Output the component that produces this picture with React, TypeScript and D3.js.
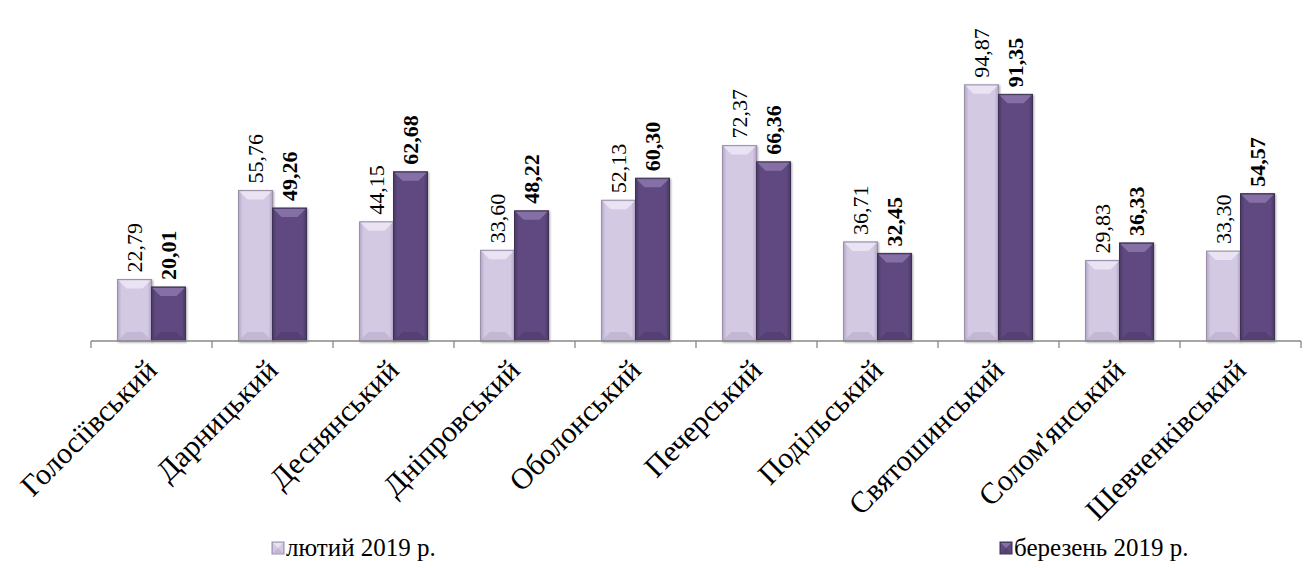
import * as d3 from "d3";

/* data */
const districts = [
  "Голосіївський",
  "Дарницький",
  "Деснянський",
  "Дніпровський",
  "Оболонський",
  "Печерський",
  "Подільський",
  "Святошинський",
  "Солом'янський",
  "Шевченківський",
];
const february = [22.79, 55.76, 44.15, 33.6, 52.13, 72.37, 36.71, 94.87, 29.83, 33.3];
const march = [20.01, 49.26, 62.68, 48.22, 60.3, 66.36, 32.45, 91.35, 36.33, 54.57];
const seriesNames = ["лютий 2019 р.", "березень 2019 р."];

const W = 1308;
const H = 568;
const FONT = "'Liberation Serif', 'Times New Roman', serif";

const palette = [
  { base: "#d3c9e3", light: "#ece6f4", dark: "#b3a6c8", edge: "#9a90a8" },
  { base: "#5f4a80", light: "#8a74a8", dark: "#4a3866", edge: "#3e3052" },
];

const fmt = (v: number) => v.toFixed(2).replace(".", ",");

function Bar({ x, y, w, h, s }: { x: number; y: number; w: number; h: number; s: number }) {
  const c = palette[s];
  const b = Math.min(9, h / 2);
  return (
    <g>
      <rect x={x} y={y} width={w} height={h} fill={`url(#grad${s})`} stroke={c.edge} strokeWidth={1} />
      {/* top bevel */}
      <polygon
        points={`${x + 1},${y + 1} ${x + w - 1},${y + 1} ${x + w - b},${y + b} ${x + b},${y + b}`}
        fill={c.light}
        opacity={0.9}
      />
      {/* bottom bevel */}
      <polygon
        points={`${x + 1},${y + h - 1} ${x + w - 1},${y + h - 1} ${x + w - b},${y + h - b} ${x + b},${y + h - b}`}
        fill={c.dark}
        opacity={0.5}
      />
    </g>
  );
}

export default function App() {
  const axisY = 341;
  const x0 = d3.scaleBand<string>().domain(districts).range([91, 1301]);
  const x1 = d3.scaleBand<number>().domain([0, 1]).range([0, 68]);
  const y = d3.scaleLinear().domain([0, 100]).range([axisY, 71]);
  const groupOff = (x0.bandwidth() - 68) / 2;

  return (
    <svg
      width={W}
      height={H}
      style={{ position: "absolute", left: 0, top: 0, background: "#fff" }}
      fontFamily={FONT}
    >
      <defs>
        {palette.map((c, i) => (
          <linearGradient key={i} id={`grad${i}`} x1="0" x2="1" y1="0" y2="0">
            <stop offset="0" stopColor={c.dark} />
            <stop offset="0.12" stopColor={c.base} />
            <stop offset="0.88" stopColor={c.base} />
            <stop offset="1" stopColor={c.dark} />
          </linearGradient>
        ))}
        <filter id="shadow" x="-20%" y="-20%" width="140%" height="140%">
          <feDropShadow dx="1" dy="1" stdDeviation="1.2" floodColor="#000" floodOpacity="0.35" />
        </filter>
      </defs>

      {/* bars */}
      {districts.map((d, i) => {
        const gx = (x0(d) ?? 0) + groupOff;
        return [february[i], march[i]].map((v, s) => {
          const bx = gx + (x1(s) ?? 0);
          const by = y(v);
          return (
            <g key={`${d}-${s}`} filter="url(#shadow)">
              <Bar x={bx} y={by} w={x1.bandwidth()} h={axisY - by} s={s} />
            </g>
          );
        });
      })}

      {/* value labels */}
      {districts.map((d, i) =>
        [february[i], march[i]].map((v, s) => {
          const cx = (x0(d) ?? 0) + groupOff + (x1(s) ?? 0) + x1.bandwidth() / 2;
          const ty = y(v) - 7;
          return (
            <text
              key={`l-${d}-${s}`}
              transform={`translate(${cx + 7},${ty}) rotate(-90)`}
              fontSize={22}
              fontWeight={s === 1 ? "bold" : "normal"}
              fill="#000"
            >
              {fmt(v)}
            </text>
          );
        })
      )}

      {/* axis */}
      <line x1={91} x2={1301} y1={axisY} y2={axisY} stroke="#888" strokeWidth={1.3} />
      {districts.concat(["end"]).map((d, i) => {
        const tx = i < districts.length ? x0(d) ?? 0 : 1301;
        return <line key={`t${i}`} x1={tx} x2={tx} y1={axisY} y2={axisY + 7} stroke="#888" strokeWidth={1.3} />;
      })}

      {/* category labels */}
      {districts.map((d) => {
        const cx = (x0(d) ?? 0) + x0.bandwidth() / 2;
        return (
          <text
            key={`c-${d}`}
            transform={`translate(${cx + 7},${axisY + 31}) rotate(-45)`}
            textAnchor="end"
            fontSize={30}
            fill="#000"
          >
            {d}
          </text>
        );
      })}

      {/* legend */}
      {seriesNames.map((n, s) => {
        const lx = s === 0 ? 272 : 1000;
        return (
          <g key={n}>
            <Bar x={lx} y={542} w={12} h={12} s={s} />
            <text x={lx + 14} y={556} fontSize={25} fill="#000">
              {n}
            </text>
          </g>
        );
      })}
    </svg>
  );
}
